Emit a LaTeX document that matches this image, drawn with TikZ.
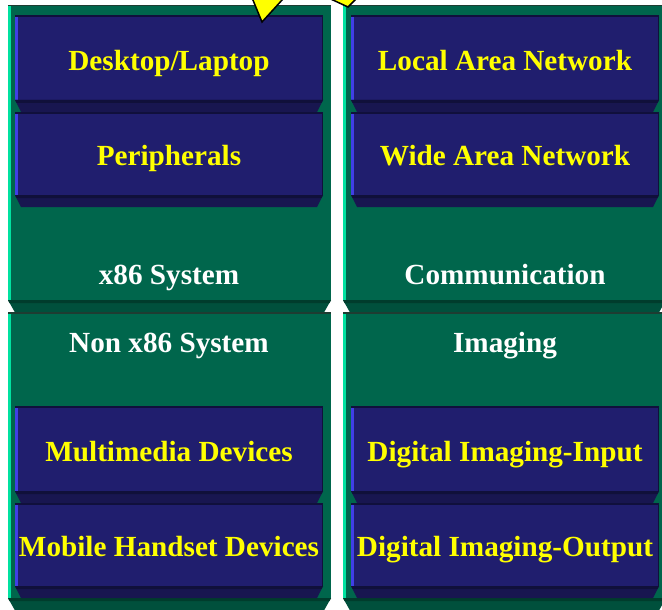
\documentclass[tikz,border=0pt]{standalone}
\usepackage{fontspec}
\setmainfont{Liberation Serif}
\definecolor{panelgreen}{RGB}{0,102,76}
\definecolor{paneledge}{RGB}{0,226,160}
\definecolor{paneltop}{RGB}{30,60,50}
\definecolor{bevelgreen}{RGB}{0,80,60}
\definecolor{bevelgreendark}{RGB}{0,60,44}
\definecolor{boxnavy}{RGB}{32,30,110}
\definecolor{boxedge}{RGB}{64,64,230}
\definecolor{boxtop}{RGB}{16,16,60}
\definecolor{bevelnavy}{RGB}{24,22,80}
\definecolor{bevelnavydark}{RGB}{16,16,58}
\definecolor{arrowyellow}{RGB}{255,255,0}
\tikzset{
  boxtext/.style={anchor=base, text=arrowyellow, font=\bfseries\fontsize{29.2}{35}\selectfont},
  paneltext/.style={anchor=base, text=white, font=\bfseries\fontsize{29.2}{35}\selectfont},
  pointer/.style={fill=arrowyellow, draw=black, line width=1.5pt, line join=miter}
}
\begin{document}
\begin{tikzpicture}[x=1pt, y=-1pt]
			\useasboundingbox (0,0) rectangle (662,610);
			\clip (0,0) rectangle (662,610);
			\fill[white] (0,0) rectangle (662,610);
			% green panels
			\foreach \x in {8,343}{
				\foreach \t/\b in {5/300,312/598}{
					\fill[panelgreen] (\x,\t) rectangle (\x+323,\b);
					\fill[paneltop] (\x,\t) rectangle (\x+323,\t+1.5);
					\fill[paneledge] (\x,\t+1.5) rectangle (\x+3,\b);
					\fill[bevelgreen] (\x,\b) -- (\x+323,\b) -- (\x+316,\b+12.5) -- (\x+7,\b+12.5) -- cycle;
					\fill[bevelgreendark] (\x,\b) -- (\x+323,\b) -- (\x+321.5,\b+3) -- (\x+1.5,\b+3) -- cycle;
				}
			}
			% blue boxes
			\foreach \x in {15,351}{
				\foreach \t/\b in {15/100,112/195,406/491,503/586}{
					\fill[boxnavy] (\x,\t) rectangle (\x+308,\b);
					\fill[boxtop] (\x,\t) rectangle (\x+308,\t+2);
					\fill[boxedge] (\x,\t+2) rectangle (\x+2.5,\b);
					\fill[boxtop] (\x+306.5,\t) rectangle (\x+308,\b);
					\fill[bevelnavy] (\x,\b) -- (\x+308,\b) -- (\x+302,\b+12) -- (\x+6,\b+12) -- cycle;
					\fill[bevelnavydark] (\x,\b) -- (\x+308,\b) -- (\x+306.5,\b+3) -- (\x+1.5,\b+3) -- cycle;
				}
			}
			% labels, left column
			\node[boxtext] (desktop) at (169,70.5) {Desktop/Laptop};
			\node[boxtext] (periph) at (169,165) {Peripherals};
			\node[paneltext] (xsys) at (169,284) {x86 System};
			\node[paneltext] (nonxsys) at (169,352) {Non x86 System};
			\node[boxtext] (multi) at (169,461) {Multimedia Devices};
			\node[boxtext] (mobile) at (169,556.5) {Mobile Handset Devices};
			% labels, right column
			\node[boxtext] (lan) at (505,70.5) {Local Area Network};
			\node[boxtext] (wan) at (505,165) {Wide Area Network};
			\node[paneltext] (comm) at (505,284) {Communication};
			\node[paneltext] (imaging) at (505,352) {Imaging};
			\node[boxtext] (imgin) at (505,461) {Digital Imaging-Input};
			\node[boxtext] (imgout) at (505,556.5) {Digital Imaging-Output};
			% pointers from above
			\draw[pointer] (248,-12) -- (262,22) -- (293,-12) -- cycle;
			\draw[pointer] (307,-12) -- (348,7) -- (367,-12) -- cycle;
\end{tikzpicture}
\end{document}
